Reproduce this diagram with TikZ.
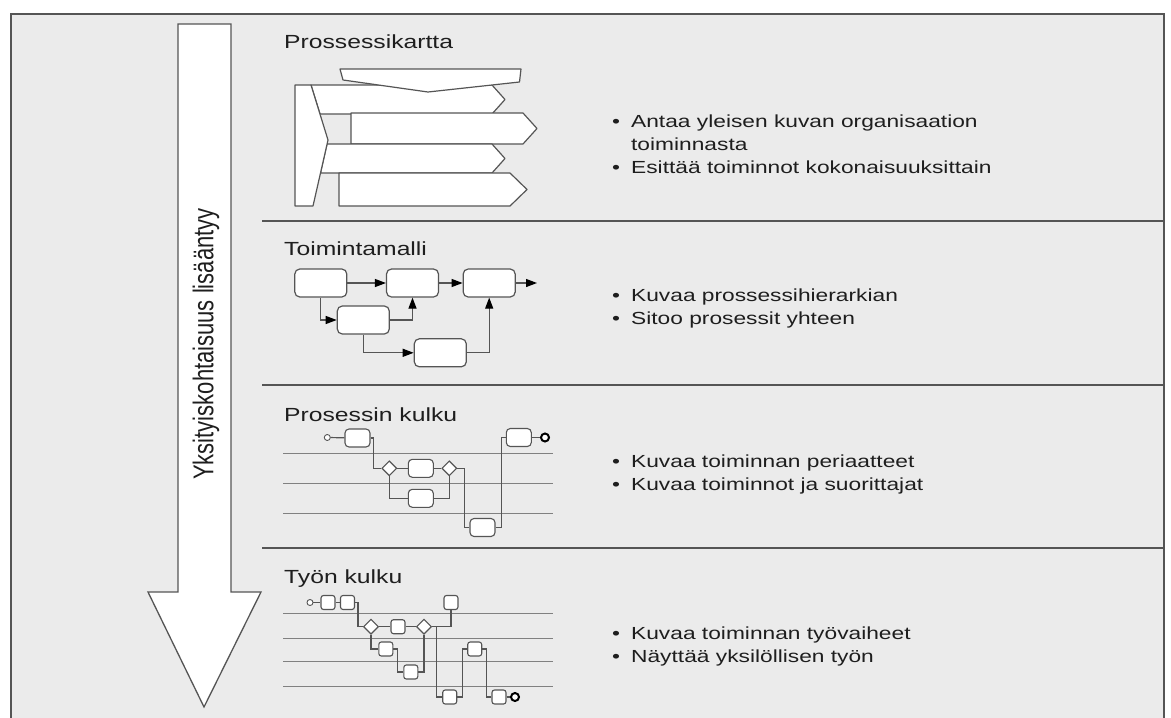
\documentclass[tikz,border=0pt]{standalone}
\usepackage{fontspec}
\setmainfont{Liberation Sans}[FakeStretch=1.3]
\newfontfamily\upfont{Liberation Sans}
\usepackage{graphicx}
\usepackage{tikz}
\usetikzlibrary{arrows.meta, positioning, shapes.geometric}
\usepackage{xcolor}
\definecolor{panel}{HTML}{EBEBEB}
\definecolor{ink}{HTML}{555555}
\definecolor{txt}{HTML}{1E1E1E}
\tikzset{
  frame/.style   ={draw=ink, line width=2.4pt},
  sepline/.style ={draw=ink, line width=1.4pt},
  lane/.style    ={draw=ink!75, line width=1pt},
  mapshape/.style={draw=ink, fill=white, line width=1.2pt, line join=round},
  bigarrow/.style={draw=ink, fill=white, line width=1.3pt},
  mbox/.style    ={draw=ink, fill=white, rounded corners=5pt, minimum width=52pt,
                   minimum height=28pt, inner sep=0pt, line width=1.2pt},
  pbox/.style    ={draw=ink, fill=white, rounded corners=4pt, minimum width=25pt,
                   minimum height=18pt, inner sep=0pt, line width=1.1pt},
  sqbox/.style   ={draw=ink, fill=white, rounded corners=2.5pt, minimum size=14pt,
                   inner sep=0pt, line width=1.1pt},
  gate/.style    ={draw=ink, fill=white, diamond, minimum size=15pt, inner sep=0pt,
                   line width=1.1pt},
  startdot/.style={draw=ink, fill=white, circle, minimum size=6pt, inner sep=0pt,
                   line width=0.9pt},
  enddot/.style  ={draw=black, fill=white, circle, minimum size=8pt, inner sep=0pt,
                   line width=2pt},
  link/.style    ={draw=ink, line width=1.2pt},
  flowarr/.style ={link, -{Triangle[length=11pt, width=8pt, color=black]}},
  ttl/.style     ={anchor=base west, inner sep=0pt, text=txt,
                   font=\fontsize{19}{22}\selectfont},
  bul/.style     ={anchor=base west, inner sep=0pt, text=txt,
                   font=\fontsize{17.5}{23}\selectfont},
}
\newcommand{\bullist}[1]{\begin{tabular}[t]{@{}l@{\hspace{11pt}}l@{}}#1\end{tabular}}

\begin{document}
\begin{tikzpicture}[x=1pt, y=-1pt]
  \useasboundingbox (0,0) rectangle (1171,718);
  \fill[white] (0,0) rectangle (1171,718);
  \fill[panel] (11,14) rectangle (1164,718);
  \draw[frame] (11,718) -- (11,14) -- (1164,14) -- (1164,718);

  % detail arrow
  \draw[bigarrow] (178,24) -- (231,24) -- (231,592) -- (261,592) -- (204,707)
    -- (148,592) -- (178,592) -- cycle;
  \node[rotate=90, inner sep=0pt, text=txt, font=\upfont\fontsize{22}{22}\selectfont]
    (detail) at (206,344) {\scalebox{1}[1.3]{Yksityiskohtaisuus lisääntyy}};

  % section rules
  \draw[sepline] (262,221) -- (1164,221);
  \draw[sepline] (262,385) -- (1164,385);
  \draw[sepline] (262,548) -- (1164,548);

  % titles
  \node[ttl] (t1) at (284,48) {Prossessikartta};
  \node[ttl] (t2) at (284,255) {Toimintamalli};
  \node[ttl] (t3) at (284,421) {Prosessin kulku};
  \node[ttl] (t4) at (284,583) {Työn kulku};

  % process map
  \draw[mapshape] (311,85) -- (492,85) -- (505,99.5) -- (492,114) -- (320,114) -- cycle;
  \draw[mapshape] (351,113) -- (523,113) -- (537,128.5) -- (523,144) -- (351,144) -- cycle;
  \draw[mapshape] (327,144) -- (492,144) -- (505,158.5) -- (492,173) -- (320.5,173) -- cycle;
  \draw[mapshape] (339,173) -- (510,173) -- (527,189.5) -- (510,206) -- (339,206) -- cycle;
  \draw[mapshape] (295,85) -- (311,85) -- (328,140) -- (313,206) -- (295,206) -- cycle;
  \draw[mapshape] (340,69) -- (521,69) -- (519.5,82) -- (428,92) -- (343,80) -- cycle;

  % operating model
  \node[mbox] (b1) at (320.8,283) {};
  \node[mbox] (b2) at (412.5,283) {};
  \node[mbox] (b3) at (489.2,283) {};
  \node[mbox] (b4) at (363.3,320) {};
  \node[mbox] (b5) at (440.3,352.8) {};
  \coordinate (bout) at (537,283);
  \draw[flowarr] (b1) -- (b2);
  \draw[flowarr] (b2) -- (b3);
  \draw[flowarr] (b3) -- (bout);
  \draw[flowarr] (b1.south) |- (b4.west);
  \draw[flowarr] (b4.east) -| (b2.south);
  \draw[flowarr] (b4.south) |- (b5.west);
  \draw[flowarr] (b5.east) -| (b3.south);

  % process flow
  \foreach \ly in {453.3, 483.3, 513.3}
    \draw[lane] (283,\ly) -- (553,\ly);
  \node[startdot] (ps) at (327.3,437.5) {};
  \node[pbox] (p1) at (357.5,438) {};
  \node[gate] (d1) at (389.3,468.3) {};
  \node[pbox] (p2) at (420.8,468.3) {};
  \node[gate] (d2) at (449.3,468.3) {};
  \node[pbox] (p3) at (420.8,498.3) {};
  \node[pbox] (p4) at (482.5,527.5) {};
  \node[pbox] (p5) at (518.8,437.5) {};
  \node[enddot] (pe) at (545,437.5) {};
  \draw[link] (ps) -- (p1);
  \draw[link] (p1.east) -- ++(3,0) |- (d1.west);
  \draw[link] (d1) -- (p2) -- (d2);
  \draw[link] (d1.south) |- (p3.west);
  \draw[link] (p3.east) -| (d2.south);
  \draw[link] (d2.east) -- ++(7,0) |- (p4.west);
  \draw[link] (p4.east) -- ++(6,0) |- (p5.west);
  \draw[link] (p5) -- (pe);

  % work flow
  \foreach \ly in {613.3, 638.3, 661.7, 686}
    \draw[lane] (283,\ly) -- (553,\ly);
  \node[startdot] (ws) at (310,602.5) {};
  \node[sqbox] (w1) at (328,602.5) {};
  \node[sqbox] (w2) at (347.5,602.5) {};
  \node[gate] (wd1) at (371,626.7) {};
  \node[sqbox] (w3) at (398,626.7) {};
  \node[gate] (wd2) at (424,626.7) {};
  \node[sqbox] (w4) at (385.8,649) {};
  \node[sqbox] (w5) at (410.8,672) {};
  \node[sqbox] (w6) at (451,602.5) {};
  \node[sqbox] (w7) at (449.7,697) {};
  \node[sqbox] (w8) at (474.7,649) {};
  \node[sqbox] (w9) at (499,697) {};
  \node[enddot] (we) at (515,697) {};
  \coordinate (wsplit) at (436.7,626.7);
  \draw[link] (ws) -- (w1) -- (w2);
  \draw[link] (w2.east) -- ++(3,0) |- (wd1.west);
  \draw[link] (wd1) -- (w3) -- (wd2);
  \draw[link] (wd1.south) |- (w4.west);
  \draw[link] (w4.east) -- ++(4,0) |- (w5.west);
  \draw[link] (w5.east) -| (wd2.south);
  \draw[link] (wd2.east) -| (w6.south);
  \draw[link] (wsplit) |- (w7.west);
  \draw[link] (w7.east) -- ++(5,0) |- (w8.west);
  \draw[link] (w8.east) -- ++(4,0) |- (w9.west);
  \draw[link] (w9) -- (we);

  % descriptions
  \node[bul] (s1) at (612,127) {\bullist{\textbullet & Antaa yleisen kuvan organisaation\\
    & toiminnasta\\ \textbullet & Esittää toiminnot kokonaisuuksittain}};
  \node[bul] (s2) at (612,301) {\bullist{\textbullet & Kuvaa prossessihierarkian\\
    \textbullet & Sitoo prosessit yhteen}};
  \node[bul] (s3) at (612,467) {\bullist{\textbullet & Kuvaa toiminnan periaatteet\\
    \textbullet & Kuvaa toiminnot ja suorittajat}};
  \node[bul] (s4) at (612,639) {\bullist{\textbullet & Kuvaa toiminnan työvaiheet\\
    \textbullet & Näyttää yksilöllisen työn}};
\end{tikzpicture}
\end{document}
